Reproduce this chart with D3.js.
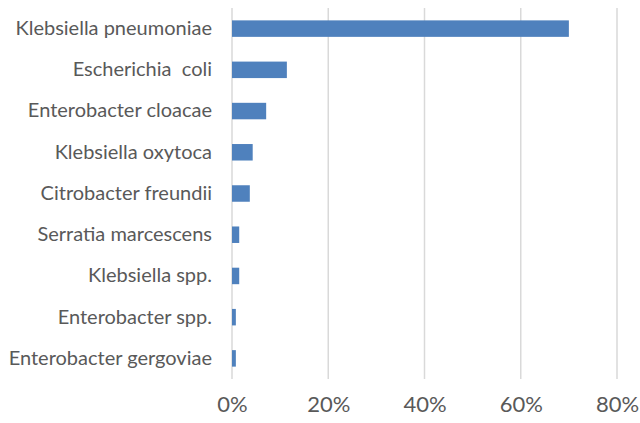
<!DOCTYPE html>
<html><head><meta charset="utf-8">
<script src="https://cdn.jsdelivr.net/npm/d3@7"></script>
<style>body{margin:0;background:#fff}svg{display:block}text{white-space:pre}</style>
</head><body>
<script>
const categories = ["Klebsiella pneumoniae","Escherichia  coli","Enterobacter cloacae","Klebsiella oxytoca","Citrobacter freundii","Serratia marcescens","Klebsiella spp.","Enterobacter spp.","Enterobacter gergoviae"];
const values = [70.0, 11.4, 7.1, 4.3, 3.7, 1.5, 1.5, 0.8, 0.8];
const tickValues = [0, 20, 40, 60, 80];

const W = 640, H = 423;
const m = {left: 232, right: 23, top: 8, bottom: 44};
const svg = d3.select("body").append("svg").attr("width", W).attr("height", H);

const x = d3.scaleLinear().domain([0, 80]).range([m.left, W - m.right]);
const y = d3.scaleBand().domain(categories).range([m.top, H - m.bottom]).paddingInner(0.6).paddingOuter(0.3);

const font = "Lato, 'Open Sans', sans-serif";

// gridlines
svg.append("g").selectAll("line").data(tickValues).join("line")
  .attr("x1", d => x(d)).attr("x2", d => x(d))
  .attr("y1", m.top).attr("y2", H - m.bottom)
  .attr("stroke", "#d9d9d9").attr("stroke-width", 1.5);

// bars
svg.append("g").selectAll("rect").data(values).join("rect")
  .attr("x", x(0)).attr("y", (d, i) => y(categories[i]))
  .attr("width", d => x(d) - x(0)).attr("height", y.bandwidth())
  .attr("fill", "#4f81bd");

// y axis labels
const yAxis = d3.axisLeft(y).tickSize(0).tickPadding(0);
const gy = svg.append("g").attr("transform", `translate(${m.left - 20},0)`).call(yAxis);
gy.select(".domain").remove();
gy.selectAll("text").attr("font-family", font).attr("font-size", 20).attr("fill", "#595959");

// x axis labels
const xAxis = d3.axisBottom(x).tickValues(tickValues).tickFormat(d => d + "%").tickSize(0).tickPadding(0);
const gx = svg.append("g").attr("transform", `translate(0,${H - m.bottom})`).call(xAxis);
gx.select(".domain").remove();
gx.selectAll("text").attr("font-family", font).attr("font-size", 22).attr("fill", "#595959").attr("dy", "1.5em");
</script>
</body></html>
